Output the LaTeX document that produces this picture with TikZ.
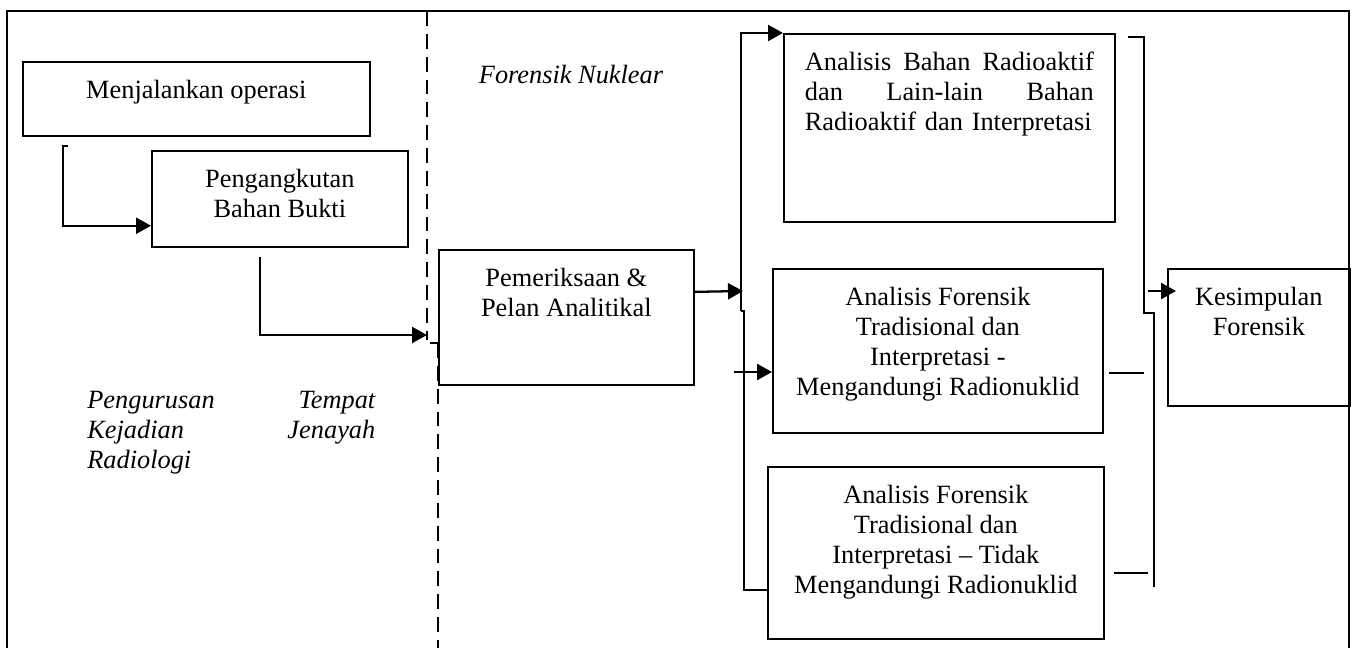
\documentclass[tikz,border=0pt]{standalone}
\usepackage{fontspec}
\setmainfont{Liberation Serif}
\usetikzlibrary{arrows.meta}
\usetikzlibrary{positioning}
\usetikzlibrary{calc}
\newcommand\diagfont{\fontsize{15pt}{17pt}\selectfont}
\tikzset {
  flow path/.style = {
    draw = black,
    line width = 1.3pt
  },
  % path style with an arrow at the end
  arr/.style = {
    flow path,
    -{Triangle[length=0.3cm, width=0.32cm]}
  },
  % path style with no arrows
  narr/.style = {
    flow path
  },
  % dashed border between the two stages
  divider/.style = {
    draw = black,
    line width = 0.6pt,
    dash pattern = on 8.5pt off 4.5pt
  }
}
\tikzset {
  stage node/.style = {
    draw = black,
    line width = 1pt,
    rectangle,
    inner sep = 0,
    anchor = north west
  },
  % text inside a stage box
  stage text/.style = {
    inner sep = 0,
    align = center,
    font = \diagfont
  },
  % italic names of the stages
  stage label/.style = {
    stage text,
    font = \diagfont\itshape
  },
  node distance = 0.38cm
}
\begin{document}
\begin{tikzpicture}[x=0.02cm, y=-0.02cm]
    \useasboundingbox (0,0) rectangle (1352,648);
    % outer frame, open at the bottom
    \draw[line width=1pt] (7,648) -- (7,11) -- (1349,11) -- (1349,648);

    \node[stage node, minimum width=6.94cm, minimum height=1.48cm] (operasi) at (22,61) {};
    \node[stage node, minimum width=5.12cm, minimum height=1.92cm] (angkut) at (151,150) {};
    \node[stage node, minimum width=5.10cm, minimum height=2.70cm] (pem) at (438,249) {};
    \node[stage node, minimum width=6.62cm, minimum height=3.76cm] (radio) at (783,33) {};
    \node[stage node, minimum width=6.60cm, minimum height=3.28cm] (trad1) at (772,268) {};
    \node[stage node, minimum width=6.72cm, minimum height=3.44cm] (trad2) at (767,466) {};
    \node[stage node, minimum width=3.64cm, minimum height=2.74cm] (kes) at (1167,268) {};

    \node[stage text] (operasi-text) [below=of operasi.north] {Menjalankan operasi};
    \node[stage text] (angkut-text) [below=of angkut.north] {Pengangkutan\\Bahan Bukti};
    \node[stage text] (pem-text) [below=of pem.north] {Pemeriksaan \&\\Pelan Analitikal};
    \node[stage text, text width=5.78cm, align=left] (radio-text) [below=of radio.north]
      {Analisis\hfill Bahan\hfill Radioaktif\\dan\hfill Lain-lain\hfill Bahan\\Radioaktif dan Interpretasi};
    \node[stage text] (trad1-text) [below=of trad1.north]
      {Analisis Forensik\\Tradisional dan\\Interpretasi -\\Mengandungi Radionuklid};
    \node[stage text] (trad2-text) [below=of trad2.north]
      {Analisis Forensik\\Tradisional dan\\Interpretasi -- Tidak\\Mengandungi Radionuklid};
    \node[stage text] (kes-text) [below=of kes.north] {Kesimpulan\\Forensik};

    \node[stage label] (nuklear) at (571,75) {Forensik Nuklear};
    \node[stage label, text width=5.76cm, align=left, anchor=north west] (kejadian) at (87,391)
      {Pengurusan\hfill Tempat\\Kejadian\hfill Jenayah\\Radiologi};

    % dashed border
    \draw[divider] (427,11) -- (427,340);
    \draw[line width=0.6pt] (430,343) -- (438,343);
    \draw[divider] (438,343) -- (438,648);

    % connectors on the left
    \coordinate (operasi-out) at (68,146);
    \coordinate (angkut-out) at (260,257);
    \coordinate (nuklear-in) at (427,335);
    \draw[arr] (operasi-out) -- ++(-5,0) |- ([yshift=0.44cm]angkut.south west);
    \draw[arr] (angkut-out) |- (nuklear-in);

    % fork to the three analyses
    \coordinate (fork-in) at (743,291);
    \coordinate (fork-split) at (741,311);
    \coordinate (trad1-src) at (734,372);
    \draw[arr] ([yshift=0.51cm]pem.east) -- (fork-in);
    \draw[arr] (fork-split) |- (radio.north west);
    \draw[narr] (fork-split) -- ++(3,0) |- ([yshift=1cm]trad2.south west);
    \draw[arr] (trad1-src) -- (trad1-src -| trad1.west);

    % joining lines on the right
    \coordinate (radio-out) at (1128,37);
    \coordinate (join-split) at (1144,313);
    \coordinate (trad1-out) at (1109,373);
    \coordinate (trad2-out) at (1114,573);
    \coordinate (kes-src) at (1148,291);
    \draw[narr] (radio-out) -| (join-split) -- ++(10,0) -- ++(0,274);
    \draw[narr] (trad1-out) -- ++(35,0);
    \draw[narr] (trad2-out) -- ++(34,0);
    \draw[arr] (kes-src) -- ($(kes-src -| kes.west) + (9,0)$);
\end{tikzpicture}
\end{document}
